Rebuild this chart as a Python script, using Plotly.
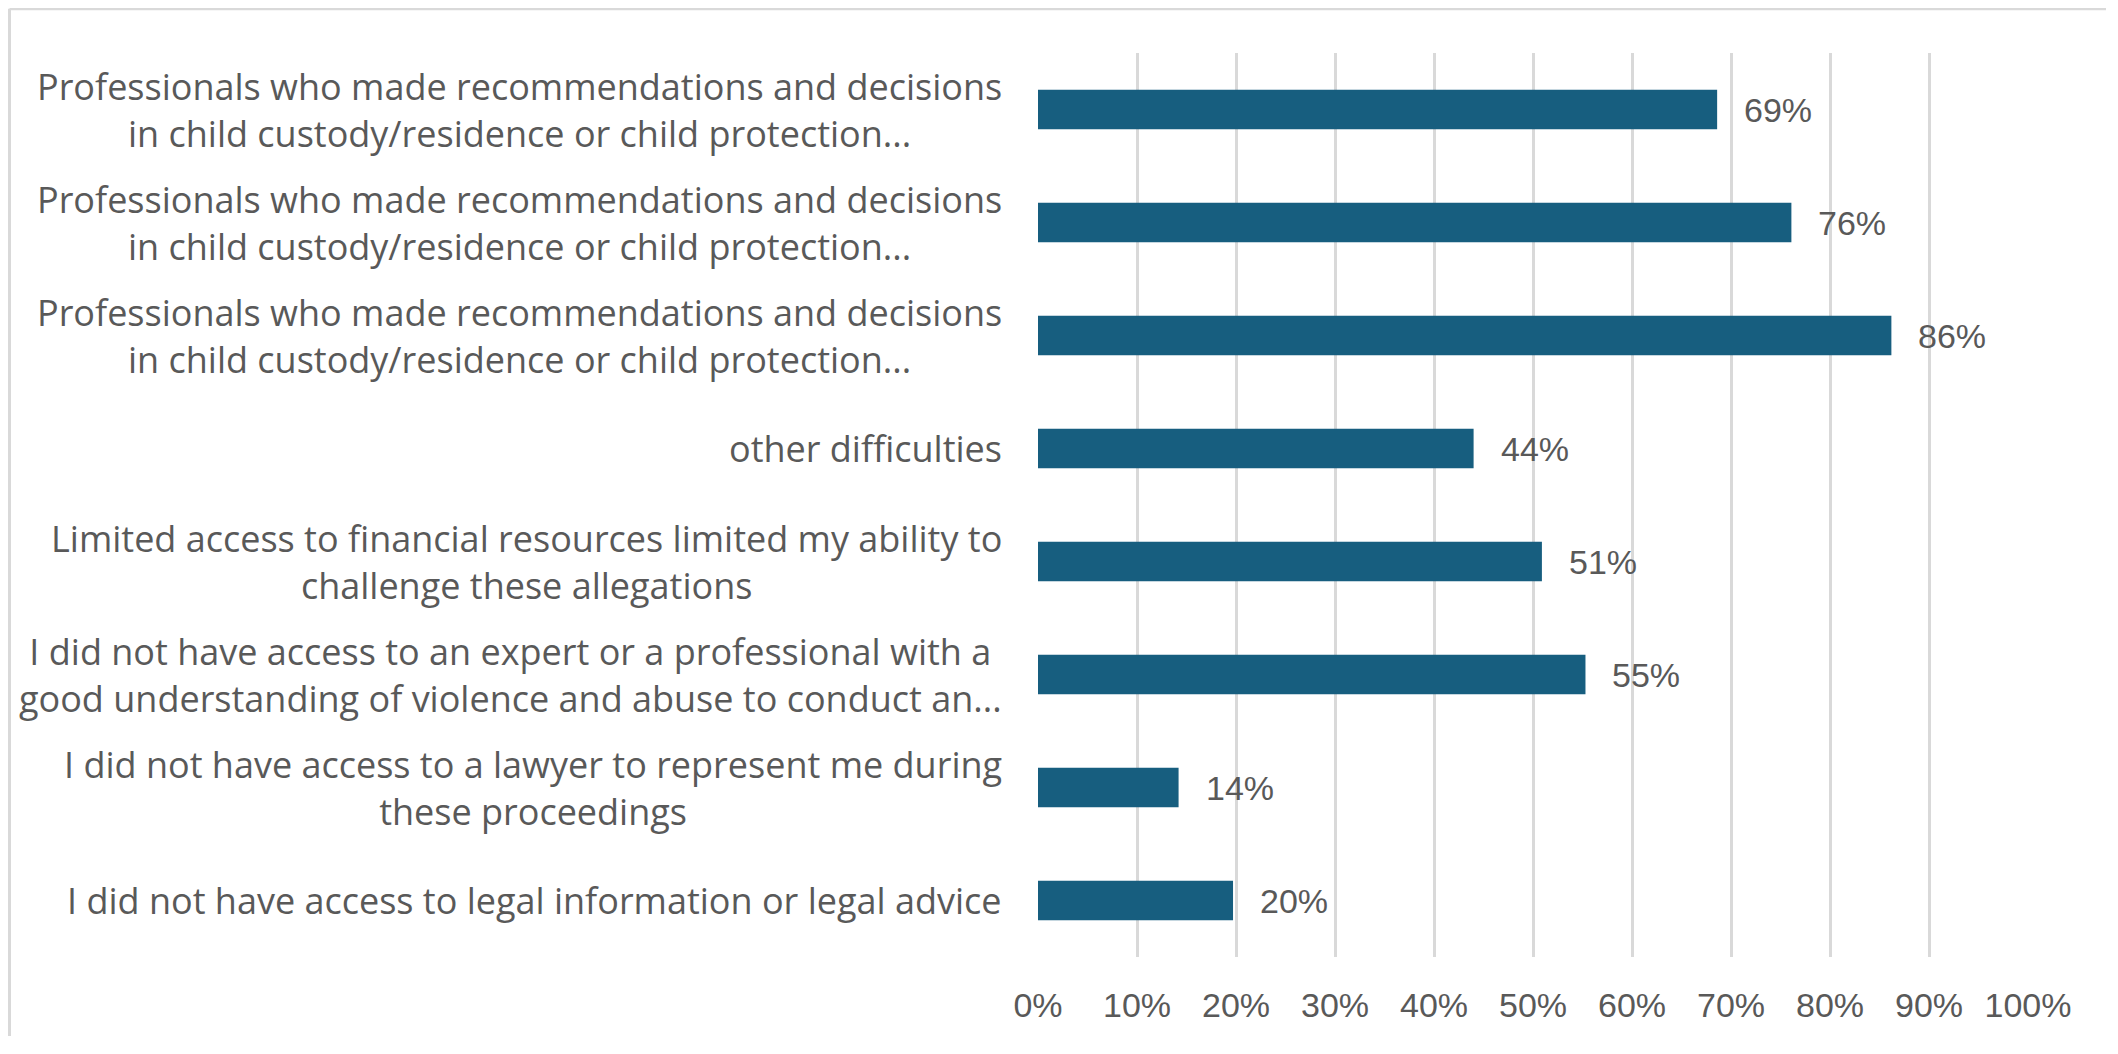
import plotly.graph_objects as go

# categories, top to bottom as drawn
labels = [
    "Professionals who made recommendations and decisions<br>in child custody/residence or child protection...",
    "Professionals who made recommendations and decisions<br>in child custody/residence or child protection...",
    "Professionals who made recommendations and decisions<br>in child custody/residence or child protection...",
    "other difficulties",
    "Limited access to financial resources limited my ability to<br>challenge these allegations",
    "I did not have access to an expert or a professional with a<br>good understanding of violence and abuse to conduct an...",
    "I did not have access to a lawyer to represent me during<br>these proceedings",
    "I did not have access to legal information or legal advice",
]
values = [0.686, 0.761, 0.862, 0.44, 0.509, 0.553, 0.142, 0.197]
x_ticks = [0, 0.1, 0.2, 0.3, 0.4, 0.5, 0.6, 0.7, 0.8, 0.9, 1.0]

BAR = "#175e7f"
TEXT = "#595959"
GRID = "#d9d9d9"
NUM_FONT = "Liberation Sans, Arial, sans-serif"
LBL_FONT = "Open Sans, sans-serif"

# the page keeps its 8px body margin, so size the figure to fit inside the window
W, H = 2098, 1028
L, R, T, B = 1030, 78, 45, 74
pw, ph = W - L - R, H - T - B

ys = list(range(len(labels)))

fig = go.Figure()
fig.add_trace(
    go.Bar(
        x=values,
        y=ys,
        orientation="h",
        width=0.35,
        marker=dict(color=BAR, line=dict(width=0)),
        hoverinfo="x",
        showlegend=False,
    )
)

annotations = []
for i, (lab, v) in enumerate(zip(labels, values)):
    # category label, lines centred like the original
    annotations.append(
        dict(
            x=0, xref="paper", y=i, yref="y",
            text=lab, showarrow=False,
            xanchor="right", yanchor="middle", align="center",
            xshift=-34,
            font=dict(family=LBL_FONT, size=36, color=TEXT),
        )
    )
    # value label
    annotations.append(
        dict(
            x=v, xref="x", y=i, yref="y",
            text=f"{round(v * 100):.0f}%", showarrow=False,
            xanchor="left", yanchor="middle",
            xshift=25,
            font=dict(family=NUM_FONT, size=34, color=TEXT),
        )
    )

# outer frame: only the top and left edges show
top_y = (H - B - 0.5) / ph
left_x = (1.5 - L) / pw
fig.update_layout(
    width=W,
    height=H,
    margin=dict(l=L, r=R, t=T, b=B),
    paper_bgcolor="white",
    plot_bgcolor="white",
    bargap=0.65,
    annotations=annotations,
    shapes=[
        dict(type="line", xref="paper", yref="paper",
             x0=left_x, x1=(W + 10 - L) / pw, y0=top_y, y1=top_y,
             line=dict(color=GRID, width=3)),
        dict(type="line", xref="paper", yref="paper",
             x0=left_x, x1=left_x, y0=top_y, y1=-(B + 10) / ph,
             line=dict(color=GRID, width=3)),
    ],
    xaxis=dict(
        range=[0, 1.0],
        tickvals=x_ticks,
        tickformat=".0%",
        showgrid=True,
        gridcolor=GRID,
        gridwidth=2.5,
        zeroline=False,
        showline=False,
        ticks="",
        ticklabelstandoff=25,
        tickfont=dict(family=NUM_FONT, size=34, color=TEXT),
    ),
    yaxis=dict(
        range=[len(labels) - 0.5, -0.5],
        showticklabels=False,
        showgrid=False,
        zeroline=False,
        showline=False,
        ticks="",
    ),
)

fig.write_html("out.html")
